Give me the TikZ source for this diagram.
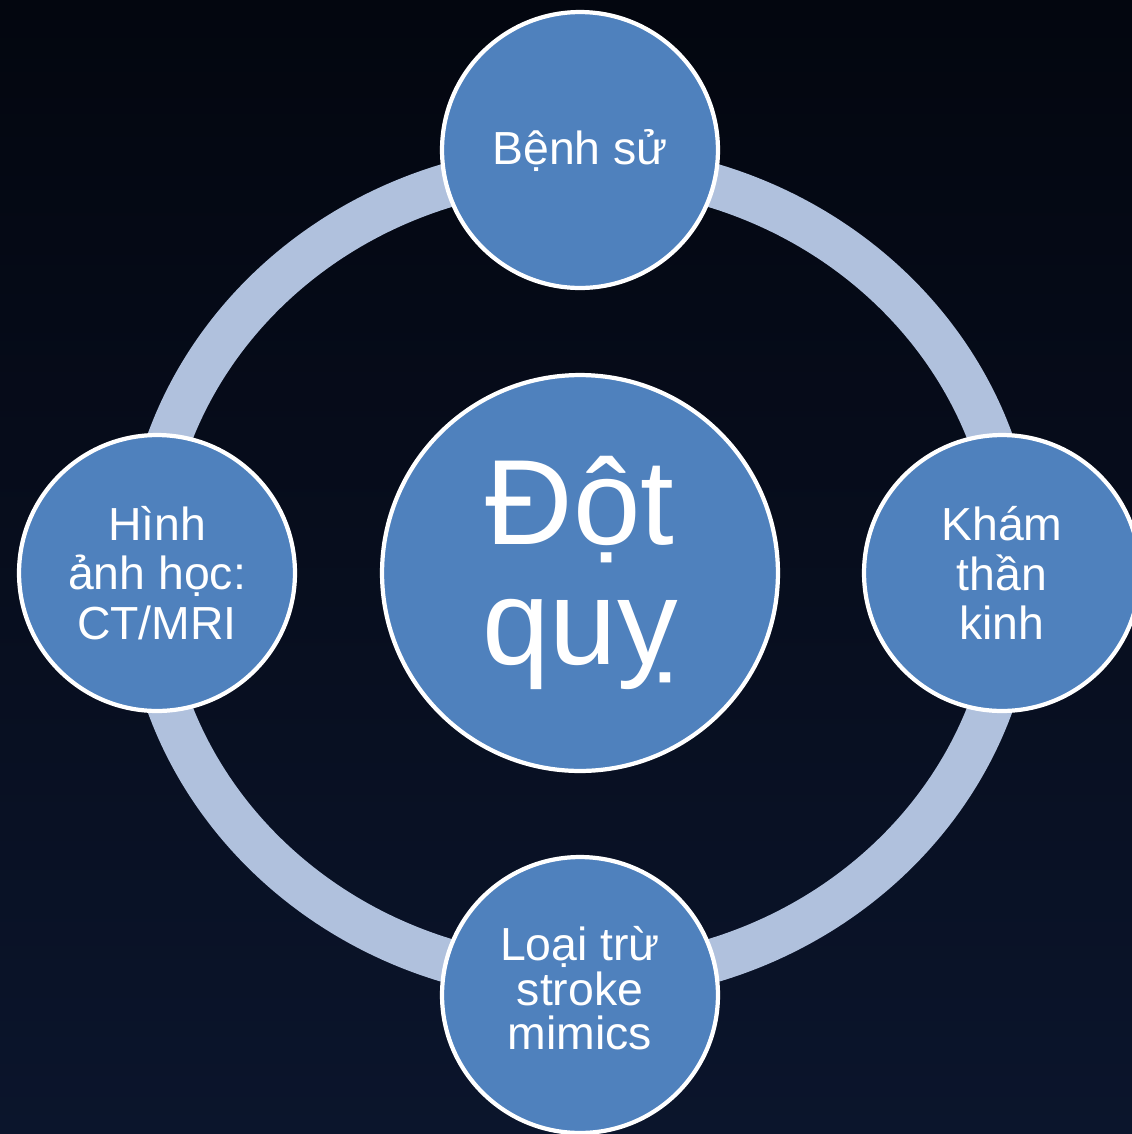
\documentclass[tikz,border=0pt]{standalone}
\usepackage{fontspec}
\setmainfont{Liberation Sans}

\definecolor{bgdark}{RGB}{3,6,15}
\definecolor{bgnavy}{RGB}{11,21,44}
\definecolor{ringblue}{RGB}{176,193,221}
\definecolor{discblue}{RGB}{79,129,189}

\begin{document}
\begin{tikzpicture}[x=0.02cm, y=-0.02cm,
    disc/.style={circle, draw=white, line width=2.4pt, fill=discblue, text=white, align=center, inner sep=0pt},
    hub/.style={disc, minimum size=7.92cm, font=\fontsize{69pt}{68pt}\selectfont},
    spoke/.style={disc, minimum size=5.52cm, font=\fontsize{26.4pt}{28pt}\selectfont}]

    \useasboundingbox (0,0) rectangle (1132,1134);
    \shade[shading angle=45, top color=bgdark, bottom color=bgnavy] (0,0) rectangle (1132,1134);
    \clip (0,0) rectangle (1132,1134);

    \coordinate (mid) at (580,573);
    \draw[ringblue, line width=25pt] (mid) ellipse [x radius=8.7cm, y radius=8.14cm];

    \node[hub] (stroke) at (mid) {Đột\\quỵ};
    \node[spoke] (history) at (580,150) {Bệnh sử};
    \node[spoke] (exam) at (1002,573) {Khám\\thần\\kinh};
    \node[spoke, text depth=8pt, font=\fontsize{26.4pt}{25.5pt}\selectfont] (mimics) at (580,995) {Loại trừ\\stroke\\mimics};
    \node[spoke] (imaging) at (157,573) {Hình\\ảnh học:\\CT/MRI};

\end{tikzpicture}
\end{document}
